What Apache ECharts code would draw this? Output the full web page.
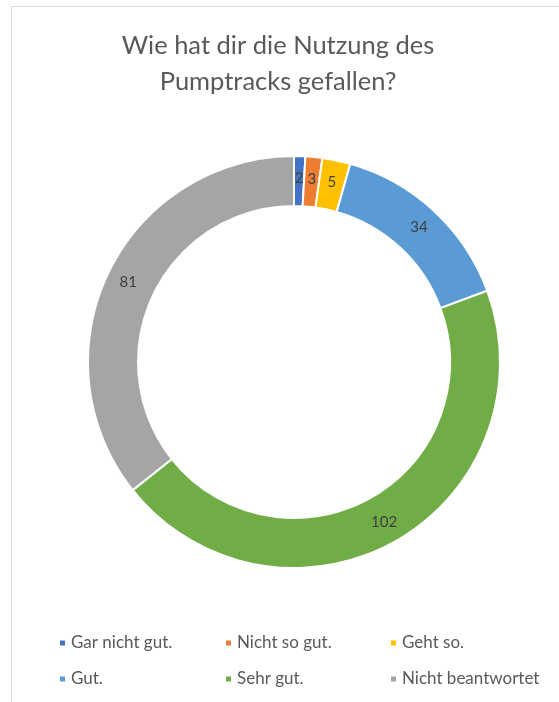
<!DOCTYPE html>
<html>
<head>
<meta charset="utf-8">
<script src="https://cdn.jsdelivr.net/npm/echarts@6/dist/echarts.min.js"></script>
<style>
html,body{margin:0;padding:0;background:#fff;}
#main{width:559px;height:702px;}
</style>
</head>
<body>
<div id="main"></div>
<script>
const titleText = 'Wie hat dir die Nutzung des\nPumptracks gefallen?';
const categories = ['Gar nicht gut.', 'Nicht so gut.', 'Geht so.', 'Gut.', 'Sehr gut.', 'Nicht beantwortet'];
const values = [2, 3, 5, 34, 102, 81];
const colors = ['#4472C4', '#ED7D31', '#FFC000', '#5B9BD5', '#70AD47', '#A5A5A5'];

const font = 'Lato, "Open Sans", sans-serif';
const chart = echarts.init(document.getElementById('main'));

const legendCols = [[0, 3], [1, 4], [2, 5]];
const legendLefts = [58, 224, 389];
const legends = legendCols.map((idx, i) => ({
  orient: 'vertical',
  left: legendLefts[i],
  top: 634,
  padding: 0,
  itemGap: 18,
  itemWidth: 7,
  itemHeight: 7,
  icon: 'rect',
  selectedMode: false,
  data: idx.map(k => categories[k]),
  textStyle: { fontFamily: font, fontSize: 17, lineHeight: 18, color: '#595959' }
}));

chart.setOption({
  backgroundColor: '#fff',
  animation: false,
  color: colors,
  title: {
    text: titleText,
    left: 273,
    textAlign: 'center',
    top: 23,
    textStyle: { fontFamily: font, fontSize: 25.5, fontWeight: 'normal', color: '#595959', lineHeight: 36 }
  },
  graphic: [{
    type: 'rect',
    shape: { x: 11.5, y: 6.5, width: 600, height: 800 },
    style: { fill: 'none', stroke: '#D9D9D9', lineWidth: 1 },
    silent: true
  }],
  legend: legends,
  series: [{
    type: 'pie',
    center: [294, 362],
    radius: [156, 206],
    startAngle: 90,
    clockwise: true,
    avoidLabelOverlap: false,
    itemStyle: { borderColor: '#fff', borderWidth: 2 },
    label: {
      show: true,
      position: 'inside',
      formatter: '{c}',
      fontFamily: font,
      fontSize: 15,
      color: '#404040'
    },
    labelLine: { show: false },
    emphasis: { disabled: true },
    data: categories.map((c, i) => ({ name: c, value: values[i] }))
  }]
});
</script>
</body>
</html>
